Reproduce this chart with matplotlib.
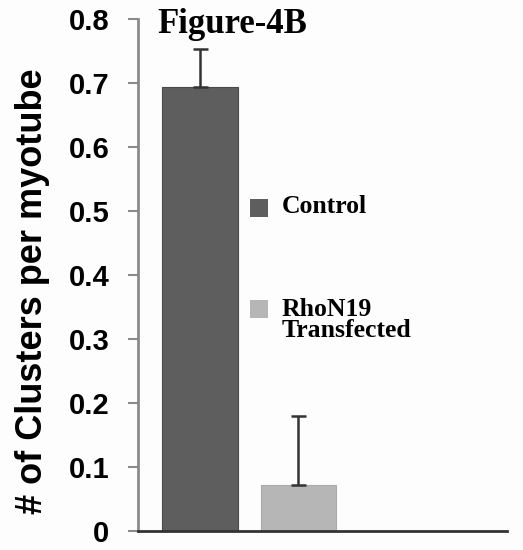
import matplotlib
matplotlib.use("Agg")
import matplotlib.pyplot as plt
from matplotlib.patches import Rectangle

groups = ["Control", "RhoN19\nTransfected"]
values = [0.693, 0.072]
errors = [0.060, 0.107]
colors = ["#5e5e5e", "#b6b6b6"]
yticks = [0, 0.1, 0.2, 0.3, 0.4, 0.5, 0.6, 0.7, 0.8]
ytick_labels = ["0", "0.1", "0.2", "0.3", "0.4", "0.5", "0.6", "0.7", "0.8"]

W, H = 523, 550
fig = plt.figure(figsize=(W/100, H/100), dpi=100)
fig.patch.set_facecolor("#fdfdfd")
ax = fig.add_axes([138/W, 1-531/H, (507-138)/W, (531-19)/H])
ax.set_facecolor("#fdfdfd")

x = list(range(len(values)))
ax.bar(x, values, width=0.77, color=colors, edgecolor=["#4a4a4a", "#aaaaaa"], linewidth=0.8, zorder=2)
ax.errorbar(x, values, yerr=[[0]*len(errors), errors], fmt="none", ecolor="#333333",
            elinewidth=1.8, capsize=5.4, capthick=1.8, zorder=3)

ax.set_xlim(-0.63, 3.12)
ax.set_ylim(0, 0.8)
ax.set_yticks(yticks)
ax.set_yticklabels(ytick_labels, fontsize=21, fontweight="bold", family="Liberation Sans")
ax.set_xticks([])
ax.tick_params(axis="y", length=7, width=1.5, color="#8a8a8a", pad=13.5)

for s in ["top", "right"]:
    ax.spines[s].set_visible(False)
ax.spines["left"].set_color("#8a8a8a")
ax.spines["left"].set_linewidth(2)
ax.spines["bottom"].set_color("#333333")
ax.spines["bottom"].set_linewidth(2)

ax.set_ylabel("# of Clusters per myotube", fontsize=26, fontweight="bold",
              family="Liberation Sans")
ax.yaxis.set_label_coords((50-138)/369, (531-291)/512)

fig.text(157/W, 1-33/H, "Figure-4B", family="Liberation Serif", fontweight="bold",
         fontsize=25, va="baseline", ha="left")

# legend (manual, no frame); baseline of the last line of each label
leg_baselines = [213, 337]
leg_square_tops = [199, 300]
for lab, col, yb, yt in zip(groups, colors, leg_baselines, leg_square_tops):
    fig.add_artist(Rectangle((250/W, 1-(yt+18)/H), 18/W, 18/H, transform=fig.transFigure,
                             facecolor=col, edgecolor="none"))
    fig.text(282/W, 1-yb/H, lab, family="Liberation Serif", fontweight="bold",
             fontsize=18.5, va="baseline", ha="left", linespacing=0.9)

fig.savefig("out.png", dpi=100, facecolor=fig.get_facecolor())
